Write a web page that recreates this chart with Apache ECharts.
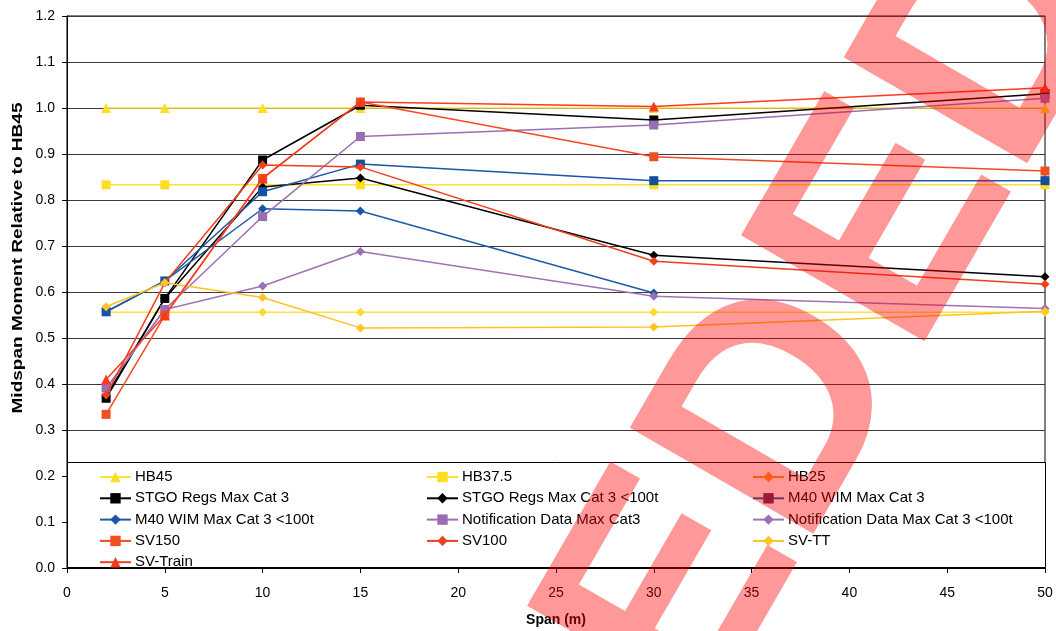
<!DOCTYPE html>
<html>
<head>
<meta charset="utf-8">
<script src="https://cdn.jsdelivr.net/npm/echarts@6/dist/echarts.min.js"></script>
<style>
html,body{margin:0;padding:0;background:#fff;}
#chart{width:1056px;height:631px;}
</style>
</head>
<body>
<div id="chart"></div>
<script>
// ---- data ----
const spans = [2, 5, 10, 15, 30, 50];
const xTicks = [0, 5, 10, 15, 20, 25, 30, 35, 40, 45, 50];
const yTicks = [0.0, 0.1, 0.2, 0.3, 0.4, 0.5, 0.6, 0.7, 0.8, 0.9, 1.0, 1.1, 1.2];

const HB45 = [1.0, 1.0, 1.0, 1.0, 1.0, 1.0];
const HB37_5 = [0.833, 0.833, 0.833, 0.833, 0.833, 0.833];
const HB25 = [0.556, 0.556, 0.556, 0.556, 0.556, 0.556];
const STGO_Cat3 = [0.369, 0.586, 0.887, 1.006, 0.974, 1.031];
const STGO_Cat3_100t = [0.373, 0.586, 0.828, 0.848, 0.680, 0.633];
const M40_Cat3 = [0.557, 0.624, 0.818, 0.878, 0.842, 0.842];
const M40_Cat3_100t = [0.557, 0.624, 0.781, 0.776, 0.598, null];
const Notif_Cat3 = [0.391, 0.562, 0.764, 0.938, 0.963, 1.021];
const Notif_Cat3_100t = [0.390, 0.562, 0.613, 0.688, 0.591, 0.564];
const SV150 = [0.334, 0.549, 0.847, 1.013, 0.894, 0.863];
const SV100 = [0.376, 0.620, 0.876, 0.872, 0.667, 0.617];
const SV_TT = [0.568, 0.620, 0.588, 0.522, 0.524, 0.558];
const SV_Train = [0.410, 0.549, 0.847, 1.013, 1.003, 1.044];

const seriesNames = ['HB45','HB37.5','HB25','STGO Regs Max Cat 3','STGO Regs Max Cat 3 <100t','M40 WIM Max Cat 3',
  'M40 WIM Max Cat 3 <100t','Notification Data Max Cat3','Notification Data Max Cat 3 <100t','SV150','SV100','SV-TT','SV-Train'];
const seriesValues = [HB45, HB37_5, HB25, STGO_Cat3, STGO_Cat3_100t, M40_Cat3, M40_Cat3_100t, Notif_Cat3, Notif_Cat3_100t, SV150, SV100, SV_TT, SV_Train];

// ---- styles ----
const lineColors = ['#FFE033','#FFE033','#FFE040','#000000','#000000','#1A56A6','#1F5AA8','#9B6FB3','#9E74B6','#F24A22','#F03E1E','#FFC21F','#FF3A1F'];
const markerColors = ['#FFDD22','#FFDD22','#FFD930','#000000','#000000','#15509E','#1A55A5','#9A6CB2','#9A6FB4','#F04E23','#F0401E','#FFC425','#F53A1E'];
const legendColors = ['#FFDD22','#FFDD22','#FF9A1F','#000000','#000000','#5E2A5C','#1A55A5','#9A6CB2','#9A6FB4','#F04E23','#F0401E','#FFC425','#F53A1E'];
const symbols = ['triangle','rect','diamond','rect','diamond','rect','diamond','rect','diamond','rect','diamond','diamond','triangle'];
const symbolSizes = {triangle:10, rect:9, diamond:9};

const FONT = '"Liberation Sans", Arial, sans-serif';

const series = seriesNames.map((name, i) => ({
  name: name,
  type: 'line',
  data: spans.map((x, j) => [x, seriesValues[i][j]]),
  symbol: symbols[i],
  symbolSize: symbolSizes[symbols[i]],
  showAllSymbol: true,
  connectNulls: false,
  lineStyle: {color: lineColors[i], width: 1.5},
  itemStyle: {color: markerColors[i], borderWidth: 0},
  emphasis: {disabled: true},
  animation: false,
  z: 2 + i * 0.01
}));

function legendCol(names, left) {
  return {
    orient: 'vertical',
    left: left,
    top: 469,
    padding: 0,
    itemGap: 5.3,
    itemWidth: 31,
    itemHeight: 13,
    z: 20,
    textStyle: {fontFamily: FONT, fontSize: 15, color: '#000', lineHeight: 16, padding: [0,0,0,-1]},
    data: names.map(n => {
      const i = seriesNames.indexOf(n);
      return {name: n, itemStyle: {color: legendColors[i]}, lineStyle: {color: i === 2 ? legendColors[i] : lineColors[i], width: 2}};
    }),
    selectedMode: false
  };
}

const option = {
  backgroundColor: '#ffffff',
  animation: false,
  grid: {left: 67, right: 11, top: 16, bottom: 63, show: true, borderColor: '#000', borderWidth: 1, backgroundColor: 'transparent'},
  xAxis: {
    type: 'value', min: 0, max: 50, interval: 5,
    axisLine: {show: true, onZero: false, lineStyle: {color: '#000', width: 1}},
    axisTick: {show: true, inside: false, length: 5, lineStyle: {color: '#000'}},
    axisLabel: {fontFamily: FONT, fontSize: 14, color: '#000', margin: 18, formatter: v => xTicks.includes(v) ? String(v) : ''},
    splitLine: {show: false}
  },
  yAxis: {
    type: 'value', min: 0, max: 1.2, interval: 0.1,
    axisLine: {show: true, lineStyle: {color: '#000', width: 1}},
    axisTick: {show: true, inside: false, length: 5, lineStyle: {color: '#000'}},
    axisLabel: {fontFamily: FONT, fontSize: 14, color: '#000', margin: 12,
      formatter: v => { const t = yTicks.find(y => Math.abs(y - v) < 1e-6); return t === undefined ? '' : t.toFixed(1); }},
    splitLine: {show: true, lineStyle: {color: '#3a3a3a', width: 1}}
  },
  legend: [
    legendCol(['HB45','STGO Regs Max Cat 3','M40 WIM Max Cat 3 <100t','SV150','SV-Train'], 99),
    legendCol(['HB37.5','STGO Regs Max Cat 3 <100t','Notification Data Max Cat3','SV100'], 426),
    legendCol(['HB25','M40 WIM Max Cat 3','Notification Data Max Cat 3 <100t','SV-TT'], 752)
  ],
  graphic: [
    {type: 'rect', z: 10, silent: true,
      shape: {x: 67.5, y: 462.5, width: 978, height: 105},
      style: {fill: '#ffffff', stroke: '#000', lineWidth: 1}},
    {type: 'text', z: 30, silent: true, x: 18, y: 258, rotation: Math.PI / 2, scaleX: 1.36,
      style: {text: 'Midspan Moment Relative to HB45', font: 'bold 14px ' + FONT, fill: '#000',
        textAlign: 'center', textVerticalAlign: 'middle', align: 'center', verticalAlign: 'middle'}},
    {type: 'text', z: 30, silent: true, x: 556, y: 620,
      style: {text: 'Span (m)', font: 'bold 14px ' + FONT, fill: '#000',
        textAlign: 'center', textVerticalAlign: 'middle', align: 'center', verticalAlign: 'middle'}},
    {type: 'text', z: 100, silent: true, x: 524, y: 865, rotation: Math.PI / 3,
      style: {text: 'SUPERSEDED', font: 'bold 308px ' + FONT, fill: 'rgba(255,0,0,0.4)',
        textAlign: 'center', textVerticalAlign: 'middle', align: 'center', verticalAlign: 'middle'}}
  ],
  series: series
};

const chart = echarts.init(document.getElementById('chart'), null, {renderer: 'canvas'});
chart.setOption(option);
</script>
</body>
</html>
